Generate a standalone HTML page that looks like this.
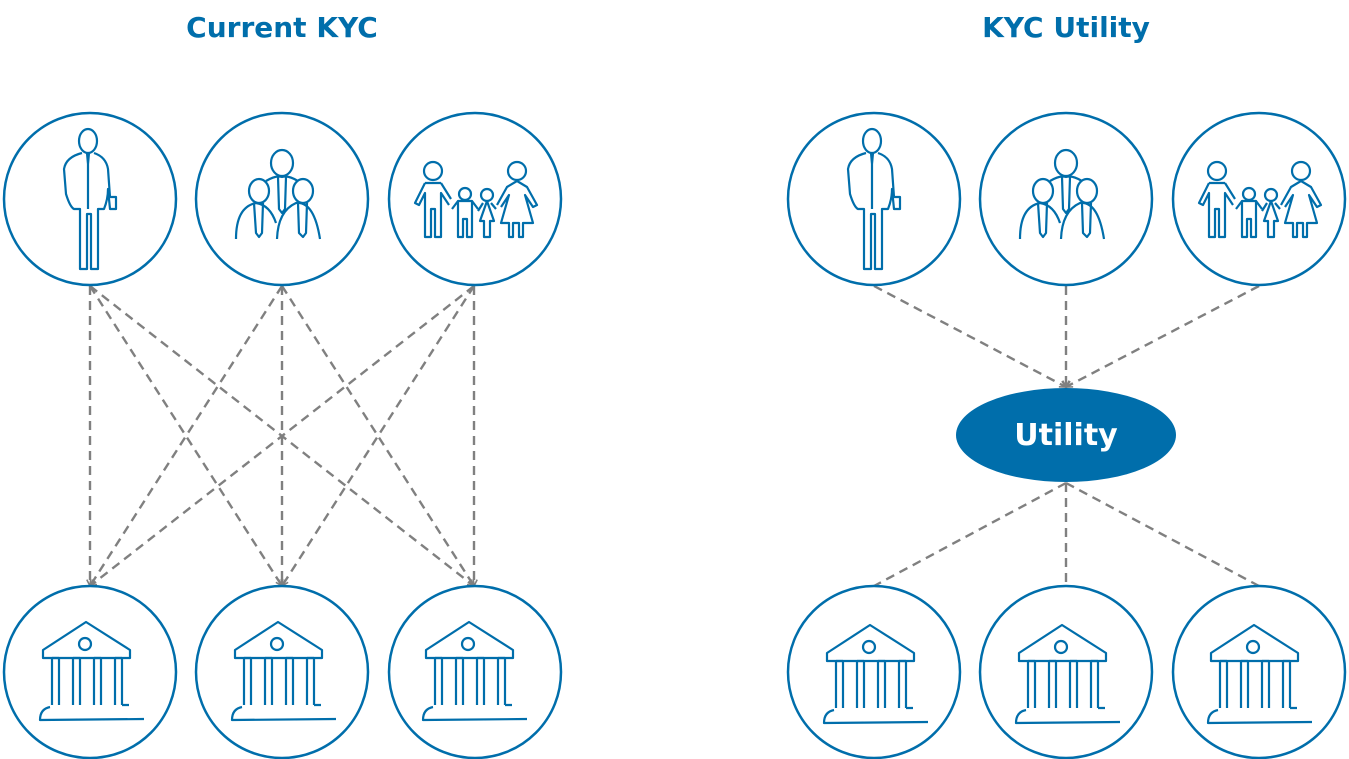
<!DOCTYPE html>
<html><head><meta charset="utf-8"><style>
html,body{margin:0;padding:0;background:#fff;}
svg{display:block;}
text{font-family:"DejaVu Sans","Liberation Sans",sans-serif;font-weight:bold;}
</style></head><body>
<svg width="1349" height="759" viewBox="0 0 1349 759" xmlns="http://www.w3.org/2000/svg">
<defs>
<marker id="ar" viewBox="0 0 10 10" refX="9" refY="5" markerWidth="8" markerHeight="8" orient="auto" markerUnits="userSpaceOnUse">
<path d="M1,1 L9,5 L1,9" fill="none" stroke="#808080" stroke-width="2"/>
</marker>
<g id="bank" fill="none" stroke="#006EAB" stroke-width="2.2" stroke-linejoin="round">
<path d="M-47,-22 L-47,-30 L-4,-58 L40,-30 L40,-22 Z"/>
<circle cx="-5" cy="-36" r="6"/>
<path d="M-38,-22 V25 M-31,-22 V25 M-31,-22 H-38 M-17,-22 V25 M-10,-22 V25 M-17,-22 H-10 M4,-22 V25 M11,-22 V25 M4,-22 H11 M25,-22 V25 M32,-22 V25 M25,-22 H32 M32,25 H39"/>
<path d="M-40,27 Q-50,29 -50,40 L54,39"/>
</g>
<g id="man" fill="none" stroke="#006EAB" stroke-width="2.2" stroke-linejoin="round">
<ellipse cx="-2" cy="-58" rx="9" ry="12"/>
<path d="M-8,-46 Q-24,-42 -26,-30 L-24,-5 Q-20,8 -16,10 L-10,10 L-10,70 L-3,70 L-3,15 L1,15 L1,70 L8,70 L8,10 L14,10 Q18,0 18,-10 L20,10 L26,10 L26,-2 L20,-2 L18,-30 Q16,-42 4,-46"/>
<path d="M-3,-46 L-2,-35 L-1,-46 M-2,-35 L-2,10"/>
</g>
<g id="group" fill="none" stroke="#006EAB" stroke-width="2.2" stroke-linejoin="round">
<ellipse cx="0" cy="-36" rx="11" ry="13"/>
<path d="M-16,-18 Q-6,-24 0,-22 Q6,-24 16,-18"/>
<path d="M-4,-22 L-3,10 L0,14 L3,10 L4,-22"/>
<ellipse cx="-23" cy="-8" rx="10" ry="12"/>
<ellipse cx="21" cy="-8" rx="10" ry="12"/>
<path d="M-46,40 Q-46,8 -26,4 Q-12,6 -6,24 M-5,40 Q-4,12 14,4 Q32,2 38,40"/>
<path d="M-28,4 L-26,34 L-23,38 L-20,34 L-19,4"/>
<path d="M16,4 L17,34 L21,38 L24,34 L25,4"/>
</g>
<g id="family" fill="none" stroke="#006EAB" stroke-width="2.2" stroke-linejoin="round">
<circle cx="-42" cy="-28" r="9"/>
<path d="M-50,-16 L-60,4 L-56,6 L-50,-6 L-50,38 L-44,38 L-44,10 L-40,10 L-40,38 L-34,38 L-34,-6 L-26,6 M-34,-16 L-24,0 M-50,-16 H-34"/>
<circle cx="-10" cy="-5" r="6"/>
<path d="M-17,2 L-17,38 L-12,38 L-12,20 L-8,20 L-8,38 L-3,38 L-3,2 Z M-17,2 L-23,10 M-3,2 L3,10"/>
<circle cx="12" cy="-4" r="6"/>
<path d="M12,2 L5,22 L9,22 L9,38 L15,38 L15,22 L19,22 Z M8,4 L3,12 M16,4 L21,10"/>
<circle cx="42" cy="-28" r="9"/>
<path d="M42,-18 L32,-12 L22,6 M42,-18 L52,-12 L62,6 L58,8 L50,-4 L58,24 L48,24 L48,38 L44,38 L44,24 L38,24 L38,38 L34,38 L34,24 L26,24 L34,-4 L26,8"/>
</g>
</defs>

<text x="282" y="37" fill="#006EAB" style="font-size:28px" text-anchor="middle">Current KYC</text>
<text x="1066" y="37" fill="#006EAB" style="font-size:28px" text-anchor="middle">KYC Utility</text>

<g stroke="#808080" stroke-width="2.4" stroke-dasharray="9,6" fill="none" marker-end="url(#ar)">
<line x1="90" y1="286" x2="90" y2="586"/>
<line x1="90" y1="286" x2="282" y2="586"/>
<line x1="90" y1="286" x2="474" y2="586"/>
<line x1="282" y1="286" x2="90" y2="586"/>
<line x1="282" y1="286" x2="282" y2="586"/>
<line x1="282" y1="286" x2="474" y2="586"/>
<line x1="474" y1="286" x2="90" y2="586"/>
<line x1="474" y1="286" x2="282" y2="586"/>
<line x1="474" y1="286" x2="474" y2="586"/>
<line x1="874" y1="286" x2="1066" y2="387"/>
<line x1="1066" y1="286" x2="1066" y2="387"/>
<line x1="1259" y1="286" x2="1066" y2="387"/>
</g>
<g stroke="#808080" stroke-width="2.4" stroke-dasharray="9,6" fill="none">
<line x1="1066" y1="483" x2="874" y2="586"/>
<line x1="1066" y1="483" x2="1066" y2="586"/>
<line x1="1066" y1="483" x2="1259" y2="586"/>
</g>

<g fill="#fff" stroke="#006EAB" stroke-width="2.5">
<circle cx="90" cy="199" r="86"/><circle cx="282" cy="199" r="86"/><circle cx="475" cy="199" r="86"/>
<circle cx="90" cy="672" r="86"/><circle cx="282" cy="672" r="86"/><circle cx="475" cy="672" r="86"/>
<circle cx="874" cy="199" r="86"/><circle cx="1066" cy="199" r="86"/><circle cx="1259" cy="199" r="86"/>
<circle cx="874" cy="672" r="86"/><circle cx="1066" cy="672" r="86"/><circle cx="1259" cy="672" r="86"/>
</g>

<use href="#man" x="90" y="199"/><use href="#group" x="282" y="199"/><use href="#family" x="475" y="199"/>
<use href="#man" x="874" y="199"/><use href="#group" x="1066" y="199"/><use href="#family" x="1259" y="199"/>
<use href="#bank" x="90" y="680"/><use href="#bank" x="282" y="680"/><use href="#bank" x="473" y="680"/>
<use href="#bank" x="874" y="683"/><use href="#bank" x="1066" y="683"/><use href="#bank" x="1258" y="683"/>

<ellipse cx="1066" cy="435" rx="110" ry="47" fill="#006EAB"/>
<text x="1066" y="445" fill="#fff" style="font-size:30px" text-anchor="middle">Utility</text>
</svg>
</body></html>
